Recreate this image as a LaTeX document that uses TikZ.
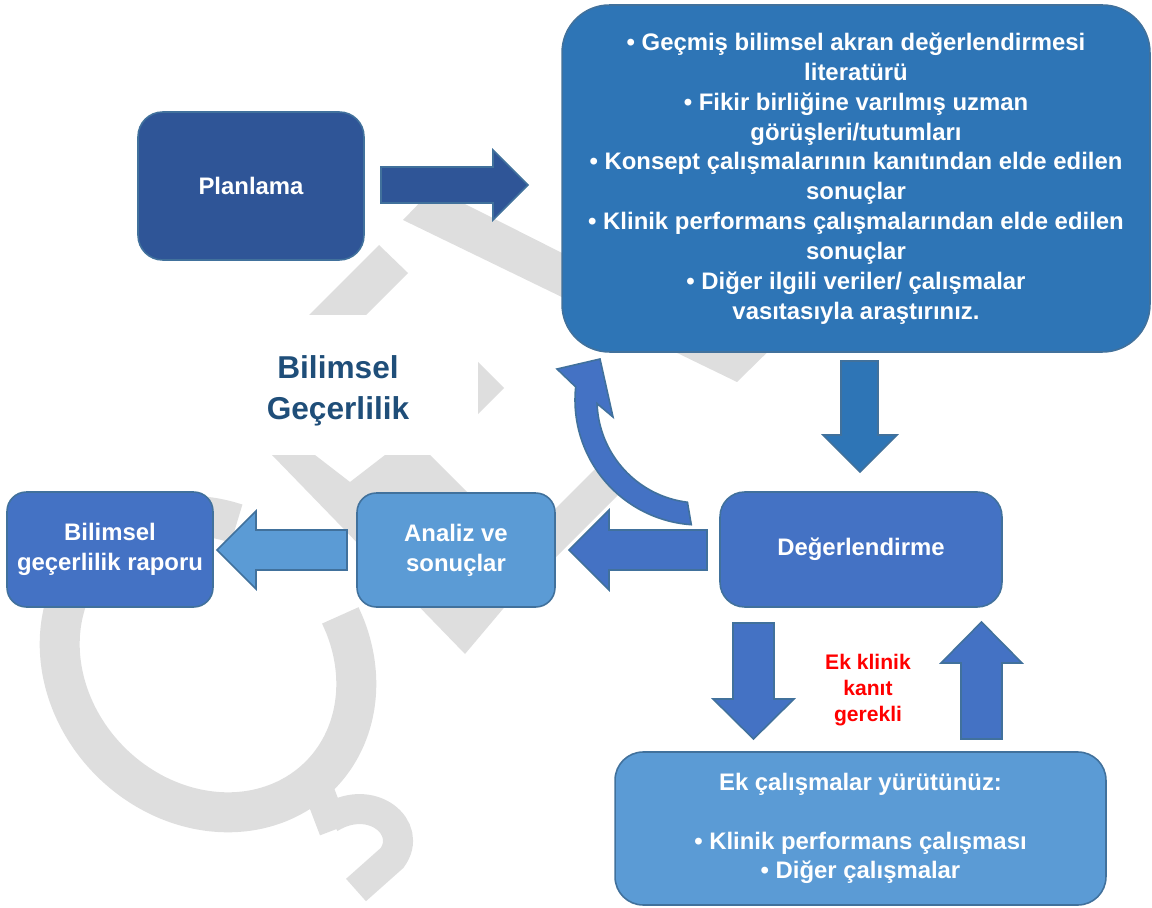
\documentclass[tikz,border=0pt]{standalone}
\usepackage{fontspec}
\setmainfont{Liberation Sans}
\usepackage{tikz}
\definecolor{planblue}{RGB}{47,85,151}
\definecolor{litblue}{RGB}{46,117,182}
\definecolor{midblue}{RGB}{68,114,196}
\definecolor{lightblue}{RGB}{91,155,213}
\definecolor{edgeblue}{RGB}{65,113,156}
\definecolor{titleblue}{RGB}{31,78,121}
\definecolor{wmgray}{RGB}{222,222,222}

\begin{document}
\begin{tikzpicture}[x=0.02cm,y=-0.02cm,line join=miter,
  font=\fontsize{13.6}{17}\selectfont\bfseries,
  box/.style={draw=edgeblue,line width=0.9pt,rounded corners=14pt,text=white,align=center,inner sep=0pt},
  fat/.style={draw=edgeblue,line width=0.9pt},
  wm/.style={fill=wmgray}]
\useasboundingbox (0,0) rectangle (1152,908);

% watermark behind everything
\fill[wm] (379,245) -- (408,273) -- (350,331) -- (293,331) -- cycle;
\fill[wm] (403,220) -- (430,192) -- (463,203) -- (570,257) -- (790,330) -- (737,382) -- cycle;
\fill[wm] (470,354) -- (504,388) -- (470,422) -- cycle;
\fill[wm] (272,455) -- (315,455) -- (350,482) -- (385,455) -- (430,455) -- (540,565) -- (465,654) -- cycle;
\fill[wm] (520,544) -- (600,464) -- (625,488) -- (545,568) -- cycle;
\draw[wmgray,line width=0.8cm] plot[domain=120:428,samples=70,smooth]
  ({208+0.707*(158*cos(\x)+138*sin(\x))},{664+0.707*(158*cos(\x)-138*sin(\x))});
\draw[wmgray,line width=0.6cm] (318,788) -- (334,830);
\draw[wmgray,line width=0.6cm] (330,818) .. controls (372,792) and (414,828) .. (392,858) -- (356,890);
\fill[white] (198,315) rectangle (478,455);

% boxes
\node[box,fill=planblue,minimum width=4.52cm,minimum height=2.96cm] (plan) at (251,186) {Planlama};
\node[box,fill=litblue,rounded corners=27pt,minimum width=11.76cm,minimum height=6.94cm] (lit) at (856,178.5)
  {• Geçmiş bilimsel akran değerlendirmesi\\literatürü\\• Fikir birliğine varılmış uzman\\görüşleri/tutumları\\
   • Konsept çalışmalarının kanıtından elde edilen\\sonuçlar\\• Klinik performans çalışmalarından elde edilen\\sonuçlar\\
   • Diğer ilgili veriler/ çalışmalar\\vasıtasıyla araştırınız.};
\node[box,fill=midblue,minimum width=5.64cm,minimum height=2.3cm] (deg) at (861,549.5) {Değerlendirme};
\node[box,fill=lightblue,rounded corners=11pt,minimum width=3.96cm,minimum height=2.28cm] (analiz) at (456,550) {Analiz ve\\sonuçlar};
\node[box,fill=midblue,rounded corners=11pt,minimum width=4.12cm,minimum height=2.3cm] (rapor) at (110,549.5) {Bilimsel\\geçerlilik raporu};
\node[box,fill=lightblue,rounded corners=16pt,minimum width=9.82cm,minimum height=3.06cm] (ek) at (860.5,828.5)
  {Ek çalışmalar yürütünüz:\\[16.5pt]• Klinik performans çalışması\\• Diğer çalışmalar};
\node[align=center,text=titleblue,font=\fontsize{18}{23.2}\selectfont\bfseries] (title) at (338,391) {Bilimsel\\Geçerlilik};
\node[align=center,text=red,font=\fontsize{12}{14.7}\selectfont\bfseries] (need) at (868,690) {Ek klinik\\kanıt\\gerekli};

% block arrows
\draw[fat,fill=planblue] (381,167) -- (493,167) -- (493,150) -- (528,185) -- (493,220) -- (493,203) -- (381,203) -- cycle;
\draw[fat,fill=litblue] (841,361) -- (878,361) -- (878,435) -- (897,435) -- (860,472) -- (823,435) -- (841,435) -- cycle;
\draw[fat,fill=midblue] (707,530) -- (707,570) -- (609,570) -- (609,590) -- (569,550) -- (609,510) -- (609,530) -- cycle;
\draw[fat,fill=lightblue] (347,530) -- (347,570) -- (256,570) -- (256,589) -- (217,550) -- (256,511) -- (256,530) -- cycle;
\draw[fat,fill=midblue] (733,623) -- (774,623) -- (774,699) -- (794,699) -- (753.5,739) -- (713,699) -- (733,699) -- cycle;
\draw[fat,fill=midblue] (961,739) -- (961,663) -- (941,663) -- (981.5,622) -- (1022,663) -- (1002,663) -- (1002,739) -- cycle;
% curved arrow back to the literature box
\draw[fat,fill=midblue] (700,400) ++(94:125) arc[start angle=94,end angle=186,radius=125]
  -- (557,369) -- (600,359) -- (613,417) -- (597.06,403.59) arc[start angle=178,end angle=97,radius=103] -- cycle;
\end{tikzpicture}
\end{document}
